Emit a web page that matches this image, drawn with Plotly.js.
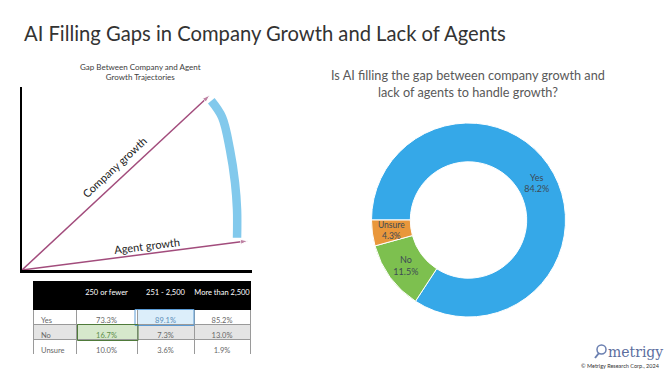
<!DOCTYPE html>
<html><head><meta charset="utf-8">
<script src="https://cdn.plot.ly/plotly-3.0.1.min.js"></script>
<style>html,body{margin:0;padding:0;background:#fff}#c{width:671px;height:375px}</style>
</head><body><div id="c"></div>
<script>
// ---- Data ----
const donutLabels = ["Yes", "No", "Unsure"];
const donutValues = [84.2, 11.5, 4.3];
const tableColumns = ["", "250 or fewer", "251 - 2,500", "More than 2,500"];
const tableRows = ["Yes", "No", "Unsure"];
const col250 = ["73.3%", "16.7%", "10.0%"];
const col2500 = ["89.1%", "7.3%", "3.6%"];
const colMore = ["85.2%", "13.0%", "1.9%"];
const companyX = [0, 81.7], companyY = [0, 95.6];
const agentX = [0, 98.3], agentY = [0, 15.9];
const gapX = [82.3, 87, 90.4, 92.6, 93.5, 93.5];
const gapY = [92.5, 83.5, 65.9, 47.8, 33, 17.6];

// ---- helpers (pixel -> paper) ----
const W = 671, H = 375;
const px = x => x / W, py = y => 1 - y / H;
const F = "Lato, 'Open Sans', sans-serif";
const arrowCol = "#A24C7C";
const nb = s => s.replace(/ /g, "\u00a0");

// donut geometry (pixels) for the small-slice label
const cx = 468.5, cy = 220, rOut = 97, hole = 0.6, rot = 270;
const total = donutValues.reduce((a, b) => a + b, 0);
const lastIdx = donutValues.length - 1;
const before = donutValues.slice(0, lastIdx).reduce((a, b) => a + b, 0);
const midFrac = (before + donutValues[lastIdx] / 2) / total;
const theta = (rot + midFrac * 360) * Math.PI / 180;
const rMid = rOut * (1 + hole) / 2;
const lblX = cx + rMid * Math.sin(theta), lblY = cy - rMid * Math.cos(theta);

const traces = [
  {type: "scatter", x: companyX, y: companyY, mode: "lines+markers", xaxis: "x", yaxis: "y",
   line: {color: arrowCol, width: 1.5}, marker: {symbol: "arrow", size: [0, 8], angleref: "previous", color: arrowCol},
   hoverinfo: "skip", showlegend: false},
  {type: "scatter", x: agentX, y: agentY, mode: "lines+markers", xaxis: "x", yaxis: "y",
   line: {color: arrowCol, width: 1.5}, marker: {symbol: "arrow", size: [0, 8], angleref: "previous", color: arrowCol},
   hoverinfo: "skip", showlegend: false},
  {type: "scatter", x: gapX, y: gapY, mode: "lines", xaxis: "x", yaxis: "y",
   line: {color: "#82C9EC", width: 8.5, shape: "spline"}, hoverinfo: "skip", showlegend: false},
  {type: "pie", labels: donutLabels, values: donutValues, hole: hole, sort: false,
   direction: "clockwise", rotation: rot,
   domain: {x: [px(cx - rOut), px(cx + rOut)], y: [py(cy + rOut), py(cy - rOut)]},
   marker: {colors: ["#35A8E8", "#7DC04F", "#E9973B"], line: {color: "#ffffff", width: 1}},
   texttemplate: "%{label}<br>%{value:.1f}%", textposition: ["inside", "inside", "none"],
   insidetextorientation: "horizontal",
   textfont: {family: F, size: 9, color: "#3d4a55"}, showlegend: false, hoverinfo: "label+value"},
  {type: "table", columnwidth: [43, 61, 57, 56],
   domain: {x: [px(33), px(250)], y: [py(354), py(281)]},
   header: {values: tableColumns.map(nb), height: 28, align: "center",
     fill: {color: "#000000"}, line: {color: "#000000", width: 1},
     font: {family: F, size: 7.5, color: "#ffffff"}},
   cells: {values: [tableRows, col250, col2500, colMore], height: 15,
     align: ["left", "center", "center", "center"],
     fill: {color: [["#ffffff", "#E4E4E4", "#ffffff"], ["#ffffff", "#D6E8CC", "#ffffff"],
                    ["#DCEEFA", "#E4E4E4", "#ffffff"], ["#ffffff", "#E4E4E4", "#ffffff"]]},
     line: {color: "#9a9a9a", width: 1},
     font: {family: F, size: 7.5, color: [["#666"], ["#666", "#5E8E4A", "#666"], ["#5B8DB8", "#666", "#666"], ["#666"]]}}}
];

const layout = {
  width: W, height: H, margin: {l: 0, r: 0, t: 0, b: 0},
  paper_bgcolor: "#ffffff", plot_bgcolor: "rgba(0,0,0,0)",
  font: {family: F},
  xaxis: {domain: [px(22), px(252)], range: [0, 100], showgrid: false, zeroline: false, showticklabels: false,
          ticks: "", showline: true, linecolor: "#000", linewidth: 2.5, fixedrange: true},
  yaxis: {domain: [py(270), py(87)], range: [0, 100], showgrid: false, zeroline: false, showticklabels: false,
          ticks: "", showline: true, linecolor: "#000", linewidth: 2.5, fixedrange: true},
  annotations: [
    {xref: "paper", yref: "paper", x: px(22), y: py(33), xanchor: "left", yanchor: "middle", showarrow: false,
     text: "AI Filling Gaps in Company Growth and Lack of Agents", font: {family: F, size: 20.2, color: "#333333"}},
    {xref: "paper", yref: "paper", x: px(140), y: py(72), xanchor: "center", yanchor: "middle", showarrow: false,
     text: "Gap Between Company and Agent<br>Growth Trajectories", font: {family: F, size: 8, color: "#404040"}},
    {xref: "paper", yref: "paper", x: px(468), y: py(84), xanchor: "center", yanchor: "middle", showarrow: false,
     text: "Is AI filling the gap between company growth and<br>lack of agents to handle growth?",
     font: {family: F, size: 12.7, color: "#595959"}},
    {xref: "x", yref: "y", x: 40.4, y: 56.5, showarrow: false, textangle: -43, text: "Company growth",
     font: {family: F, size: 11, color: "#222"}},
    {xref: "x", yref: "y", x: 54.3, y: 13.2, showarrow: false, textangle: -7, text: "Agent growth",
     font: {family: F, size: 11, color: "#222"}},
    {xref: "paper", yref: "paper", x: px(lblX), y: py(lblY), xanchor: "center", yanchor: "middle", showarrow: false,
     text: donutLabels[lastIdx] + "<br>" + donutValues[lastIdx].toFixed(1) + "%",
     font: {family: F, size: 8.5, color: "#3d4a55"}},
    {xref: "paper", yref: "paper", x: px(606), y: py(352), xanchor: "left", yanchor: "middle", showarrow: false,
     text: "metrigy", font: {family: "'DejaVu Serif', serif", size: 14, color: "#5C6E9E"}},
    {xref: "paper", yref: "paper", x: px(620), y: py(366), xanchor: "center", yanchor: "middle", showarrow: false,
     text: "© Metrigy Research Corp., 2024", font: {family: F, size: 5.5, color: "#333"}}
  ],
  shapes: [
    {type: "rect", xref: "paper", yref: "paper", x0: px(135), x1: px(194), y0: py(325.5), y1: py(309.5),
     line: {color: "#5B9BD5", width: 1}, fillcolor: "rgba(0,0,0,0)"},
    {type: "rect", xref: "paper", yref: "paper", x0: px(77.5), x1: px(138), y0: py(340.5), y1: py(324.5),
     line: {color: "#4F7A3A", width: 1}, fillcolor: "rgba(0,0,0,0)"},
    {type: "circle", xref: "paper", yref: "paper", x0: px(597), x1: px(606), y0: py(354), y1: py(345),
     line: {color: "#6A7FB0", width: 1.5}, fillcolor: "rgba(0,0,0,0)"},
    {type: "line", xref: "paper", yref: "paper", x0: px(599), x1: px(595), y0: py(353), y1: py(358),
     line: {color: "#6A7FB0", width: 2}}
  ]
};
Plotly.newPlot("c", traces, layout, {staticPlot: true, displayModeBar: false});
</script></body></html>
